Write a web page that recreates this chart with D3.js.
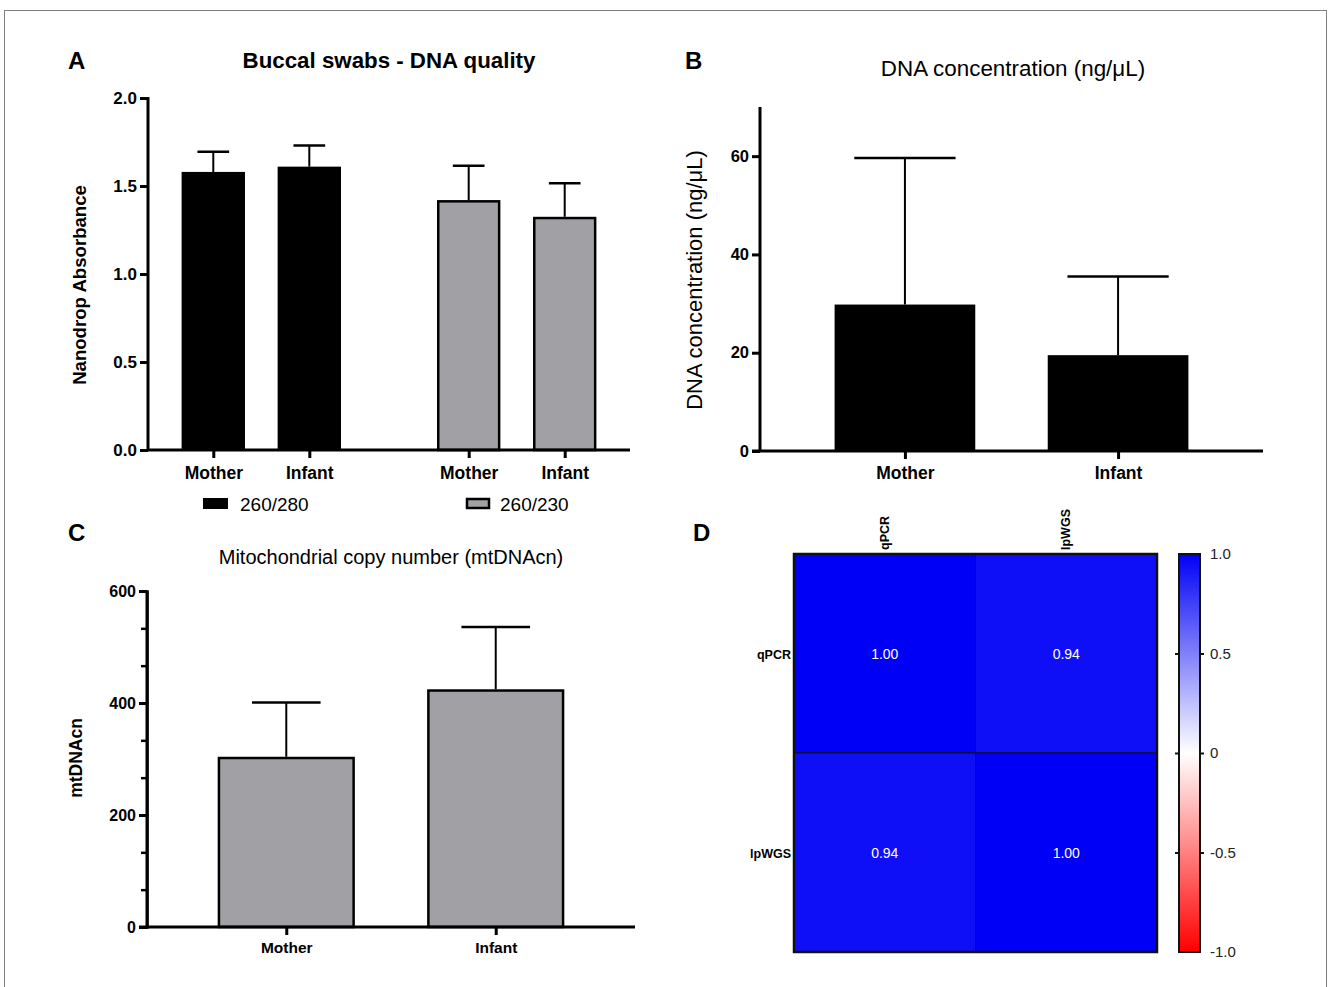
<!DOCTYPE html>
<html>
<head>
<meta charset="utf-8">
<script src="https://cdn.jsdelivr.net/npm/d3@7"></script>
<style>
  body { margin: 0; background: #fff; }
  svg { display: block; font-family: Arial, "Liberation Sans", sans-serif; }
</style>
</head>
<body>
<div id="fig"></div>
<script>
// ---- data ----
var subjects = ["Mother", "Infant"];

// A: Nanodrop ratios
var ratioGroups = ["260/280", "260/230"];
var ratio280Mean = [1.58, 1.61];
var ratio280Sd = [0.115, 0.12];
var ratio230Mean = [1.42, 1.325];
var ratio230Sd = [0.195, 0.19];

// B: DNA concentration
var concMean = [29.8, 19.5];
var concSd = [29.8, 16.0];

// C: mtDNAcn
var mtMean = [304, 424.5];
var mtSd = [97, 111];

// D: correlation matrix
var methods = ["qPCR", "lpWGS"];
var corr = [[1.00, 0.94], [0.94, 1.00]];

var gray = "#a1a1a5";

var svg = d3.select("#fig")
    .append("svg")
    .attr("width", 1328)
    .attr("height", 987);

// outer frame
svg.append("rect")
    .attr("x", 4.5).attr("y", 10.5)
    .attr("width", 1322).attr("height", 1000)
    .attr("fill", "none")
    .attr("stroke", "#808080")
    .attr("stroke-width", 1);

function panelLetter(t, x, y) {
    svg.append("text")
        .attr("x", x).attr("y", y)
        .style("font-size", "24px")
        .style("font-weight", "bold")
        .text(t);
}

function styleAxis(g, w, fontSize) {
    g.select(".domain").attr("stroke-width", w).attr("stroke", "#000");
    g.selectAll(".tick line").attr("stroke-width", w).attr("stroke", "#000");
    g.selectAll(".tick text")
        .style("font-size", fontSize)
        .style("font-weight", "bold")
        .style("font-family", "Arial, 'Liberation Sans', sans-serif")
        .attr("fill", "#000");
}

// error bar (upper only)
function errBar(g, cx, yTop, yCap, capHalf) {
    g.append("line")
        .attr("x1", cx).attr("x2", cx)
        .attr("y1", yTop).attr("y2", yCap)
        .attr("stroke", "#000").attr("stroke-width", 2);
    g.append("line")
        .attr("x1", cx - capHalf).attr("x2", cx + capHalf)
        .attr("y1", yCap).attr("y2", yCap)
        .attr("stroke", "#000").attr("stroke-width", 2.5);
}

// ================= A =================
(function () {
    panelLetter("A", 68, 69);
    var left = 148, top = 98, bottom = 450, right = 630;
    var g = svg.append("g");

    var y = d3.scaleLinear().domain([0, 2]).range([bottom, top]);
    var groupOffset = 2.66;
    var x = d3.scaleLinear().domain([-0.68, 4.34]).range([left, right]);
    var bw = x(0.66) - x(0);

    var bars = [];
    ratioGroups.forEach(function (grp, gi) {
        var means = gi === 0 ? ratio280Mean : ratio230Mean;
        var sds = gi === 0 ? ratio280Sd : ratio230Sd;
        subjects.forEach(function (s, si) {
            bars.push({ slot: gi * groupOffset + si, mean: means[si], sd: sds[si], group: gi, label: s });
        });
    });

    bars.forEach(function (d) {
        errBar(g, x(d.slot), y(d.mean), y(d.mean + d.sd), bw / 4);
    });

    g.selectAll("rect.bar")
        .data(bars)
        .enter()
        .append("rect")
        .attr("class", "bar")
        .attr("x", function (d) { return x(d.slot) - bw / 2 + (d.group ? 1.25 : 0); })
        .attr("y", function (d) { return y(d.mean) + (d.group ? 1.25 : 0); })
        .attr("width", function (d) { return bw - (d.group ? 2.5 : 0); })
        .attr("height", function (d) { return bottom - y(d.mean) - (d.group ? 1.25 : 0); })
        .attr("fill", function (d) { return d.group ? gray : "#000"; })
        .attr("stroke", "#000")
        .attr("stroke-width", function (d) { return d.group ? 2.5 : 0; });

    var yAx = g.append("g")
        .attr("transform", "translate(" + left + ",0)")
        .call(d3.axisLeft(y).tickValues([0, 0.5, 1, 1.5, 2]).tickFormat(d3.format(".1f")).tickSize(8).tickPadding(3));
    styleAxis(yAx, 3, "17px");
    yAx.select(".domain").attr("d", "M0," + (top - 1) + "V" + bottom);

    var xAx = g.append("g")
        .attr("transform", "translate(0," + bottom + ")")
        .call(d3.axisBottom(x).tickValues(bars.map(function (d) { return d.slot; }))
            .tickFormat(function (v, i) { return bars[i].label; }).tickSize(8).tickPadding(9));
    styleAxis(xAx, 3, "17.5px");
    xAx.select(".domain").attr("d", "M" + left + ",0H" + right);

    svg.append("text")
        .attr("x", 389).attr("y", 68)
        .attr("text-anchor", "middle")
        .style("font-size", "22.3px").style("font-weight", "bold")
        .text("Buccal swabs - DNA quality");

    svg.append("text")
        .attr("transform", "translate(86," + ((top + bottom) / 2 + 11) + ") rotate(-90)")
        .attr("text-anchor", "middle")
        .style("font-size", "18.6px").style("font-weight", "bold")
        .text("Nanodrop Absorbance");

    // legend
    var legX = [203, 466];
    ratioGroups.forEach(function (grp, gi) {
        svg.append("rect")
            .attr("x", legX[gi] + (gi ? 1 : 0)).attr("y", 498 + (gi ? 1 : 0))
            .attr("width", gi ? 22 : 25).attr("height", gi ? 9 : 11)
            .attr("fill", gi ? gray : "#000")
            .attr("stroke", "#000").attr("stroke-width", gi ? 2.5 : 0);
        svg.append("text")
            .attr("x", legX[gi] + (gi ? 34 : 37)).attr("y", 511)
            .style("font-size", "19px")
            .text(grp);
    });
})();

// ================= B =================
(function () {
    panelLetter("B", 685, 69);
    var left = 760, top = 107, bottom = 451, right = 1263;
    var g = svg.append("g");

    var y = d3.scaleLinear().domain([0, 70]).range([bottom, top]);
    var x = d3.scalePoint().domain(subjects).range([left, right]).padding(0.68);
    var bw = x.step() * 0.66;

    subjects.forEach(function (s, i) {
        errBar(g, x(s), y(concMean[i]), y(concMean[i] + concSd[i]), bw * 0.36);
    });

    g.selectAll("rect.bar")
        .data(subjects)
        .enter()
        .append("rect")
        .attr("x", function (d) { return x(d) - bw / 2; })
        .attr("y", function (d, i) { return y(concMean[i]); })
        .attr("width", bw)
        .attr("height", function (d, i) { return bottom - y(concMean[i]); })
        .attr("fill", "#000");

    var yAx = g.append("g")
        .attr("transform", "translate(" + left + ",0)")
        .call(d3.axisLeft(y).tickValues([0, 20, 40, 60]).tickSize(8).tickPadding(3));
    styleAxis(yAx, 3, "16.5px");
    yAx.select(".domain").attr("d", "M0," + top + "V" + bottom);

    var xAx = g.append("g")
        .attr("transform", "translate(0," + bottom + ")")
        .call(d3.axisBottom(x).tickSize(8).tickPadding(8));
    styleAxis(xAx, 3, "17.5px");
    xAx.select(".domain").attr("d", "M" + (left - 8) + ",0H" + right);

    svg.append("text")
        .attr("x", 1013).attr("y", 76)
        .attr("text-anchor", "middle")
        .style("font-size", "22.4px")
        .text("DNA concentration (ng/\u03bcL)");

    svg.append("text")
        .attr("transform", "translate(702," + 280 + ") rotate(-90)")
        .attr("text-anchor", "middle")
        .style("font-size", "22px")
        .text("DNA concentration (ng/\u03bcL)");
})();

// ================= C =================
(function () {
    panelLetter("C", 68, 541);
    var left = 147, top = 591, bottom = 927, right = 635;
    var g = svg.append("g");

    var y = d3.scaleLinear().domain([0, 600]).range([bottom, top]);
    var x = d3.scalePoint().domain(subjects).range([left, right]).padding(0.665);
    var bw = x.step() * 0.655;

    subjects.forEach(function (s, i) {
        errBar(g, x(s), y(mtMean[i]), y(mtMean[i] + mtSd[i]), bw / 4);
    });

    g.selectAll("rect.bar")
        .data(subjects)
        .enter()
        .append("rect")
        .attr("x", function (d) { return x(d) - bw / 2 + 1.25; })
        .attr("y", function (d, i) { return y(mtMean[i]) + 1.25; })
        .attr("width", bw - 2.5)
        .attr("height", function (d, i) { return bottom - y(mtMean[i]) - 1.25; })
        .attr("fill", gray)
        .attr("stroke", "#000")
        .attr("stroke-width", 2.5);

    // minor ticks
    var minor = g.append("g")
        .attr("transform", "translate(" + left + ",0)")
        .call(d3.axisLeft(y).tickValues(d3.range(0, 601, 200 / 3)).tickSize(6).tickFormat(""));
    styleAxis(minor, 2.5, "14px");

    var yAx = g.append("g")
        .attr("transform", "translate(" + left + ",0)")
        .call(d3.axisLeft(y).tickValues([0, 200, 400, 600]).tickSize(8).tickPadding(3));
    styleAxis(yAx, 3, "16px");
    yAx.select(".domain").attr("d", "M0," + top + "V" + bottom);

    var xAx = g.append("g")
        .attr("transform", "translate(0," + bottom + ")")
        .call(d3.axisBottom(x).tickSize(8).tickPadding(7));
    styleAxis(xAx, 3, "15.5px");
    xAx.select(".domain").attr("d", "M" + (left - 8) + ",0H" + right);

    svg.append("text")
        .attr("x", 391).attr("y", 564)
        .attr("text-anchor", "middle")
        .style("font-size", "20px")
        .text("Mitochondrial copy number (mtDNAcn)");

    svg.append("text")
        .attr("transform", "translate(82," + 758 + ") rotate(-90)")
        .attr("text-anchor", "middle")
        .style("font-size", "17.5px").style("font-weight", "bold")
        .text("mtDNAcn");
})();

// ================= D =================
(function () {
    panelLetter("D", 693, 541);
    var left = 794, top = 554, right = 1157, bottom = 952;
    var g = svg.append("g");

    var x = d3.scaleBand().domain(methods).range([left, right]);
    var y = d3.scaleBand().domain(methods).range([top, bottom]);
    var color = d3.scaleLinear().domain([-1, 0, 1]).range(["#ff0000", "#ffffff", "#0000f6"]);

    var cells = [];
    methods.forEach(function (r, ri) {
        methods.forEach(function (c, ci) {
            cells.push({ row: r, col: c, v: corr[ri][ci] });
        });
    });

    g.selectAll("rect.cell")
        .data(cells)
        .enter()
        .append("rect")
        .attr("x", function (d) { return x(d.col); })
        .attr("y", function (d) { return y(d.row); })
        .attr("width", x.bandwidth())
        .attr("height", y.bandwidth())
        .attr("fill", function (d) { return color(d.v); })
        .attr("stroke", "#111")
        .attr("stroke-width", 1);

    g.append("rect")
        .attr("x", left).attr("y", top)
        .attr("width", right - left).attr("height", bottom - top)
        .attr("fill", "none").attr("stroke", "#111").attr("stroke-width", 2.5);

    g.selectAll("text.val")
        .data(cells)
        .enter()
        .append("text")
        .attr("x", function (d) { return x(d.col) + x.bandwidth() / 2; })
        .attr("y", function (d) { return y(d.row) + y.bandwidth() / 2 + 5; })
        .attr("text-anchor", "middle")
        .attr("fill", "#fff")
        .style("font-size", "14px")
        .text(function (d) { return d3.format(".2f")(d.v); });

    g.selectAll("text.row")
        .data(methods)
        .enter()
        .append("text")
        .attr("x", left - 3)
        .attr("y", function (d) { return y(d) + y.bandwidth() / 2 + 5; })
        .attr("text-anchor", "end")
        .style("font-size", "12.5px").style("font-weight", "bold")
        .text(function (d) { return d; });

    g.selectAll("text.col")
        .data(methods)
        .enter()
        .append("text")
        .attr("transform", function (d) {
            return "translate(" + (x(d) + x.bandwidth() / 2 + 4) + "," + (top - 4) + ") rotate(-90)";
        })
        .attr("text-anchor", "start")
        .style("font-size", "12.5px").style("font-weight", "bold")
        .text(function (d) { return d; });

    // colour bar
    var cbL = 1179, cbR = 1200;
    var cy = d3.scaleLinear().domain([-1, 1]).range([bottom, top]);
    var grad = svg.append("defs").append("linearGradient")
        .attr("id", "cbar")
        .attr("x1", 0).attr("y1", 1).attr("x2", 0).attr("y2", 0);
    [-1, -0.5, 0, 0.5, 1].forEach(function (v) {
        grad.append("stop")
            .attr("offset", (v + 1) / 2)
            .attr("stop-color", color(v));
    });
    g.append("rect")
        .attr("x", cbL).attr("y", top)
        .attr("width", cbR - cbL).attr("height", bottom - top)
        .attr("fill", "url(#cbar)")
        .attr("stroke", "#111").attr("stroke-width", 2);

    var cbAx = g.append("g")
        .attr("transform", "translate(" + cbR + ",0)")
        .call(d3.axisRight(cy).tickValues([-1, -0.5, 0, 0.5, 1])
            .tickFormat(function (v) { return Math.abs(v) === 1 ? v.toFixed(1) : String(v); })
            .tickSize(4).tickPadding(6));
    cbAx.select(".domain").remove();
    cbAx.selectAll(".tick line").attr("stroke", "#111").attr("stroke-width", 2)
        .style("display", function (v) { return Math.abs(v) === 1 ? "none" : null; });
    cbAx.selectAll(".tick text")
        .style("font-size", "15px")
        .style("font-family", "Arial, 'Liberation Sans', sans-serif")
        .attr("fill", "#222");

    var cbAxL = g.append("g")
        .attr("transform", "translate(" + cbL + ",0)")
        .call(d3.axisLeft(cy).tickValues([-0.5, 0, 0.5]).tickSize(4).tickFormat(""));
    cbAxL.select(".domain").remove();
    cbAxL.selectAll(".tick line").attr("stroke", "#111").attr("stroke-width", 2);
})();
</script>
</body>
</html>
